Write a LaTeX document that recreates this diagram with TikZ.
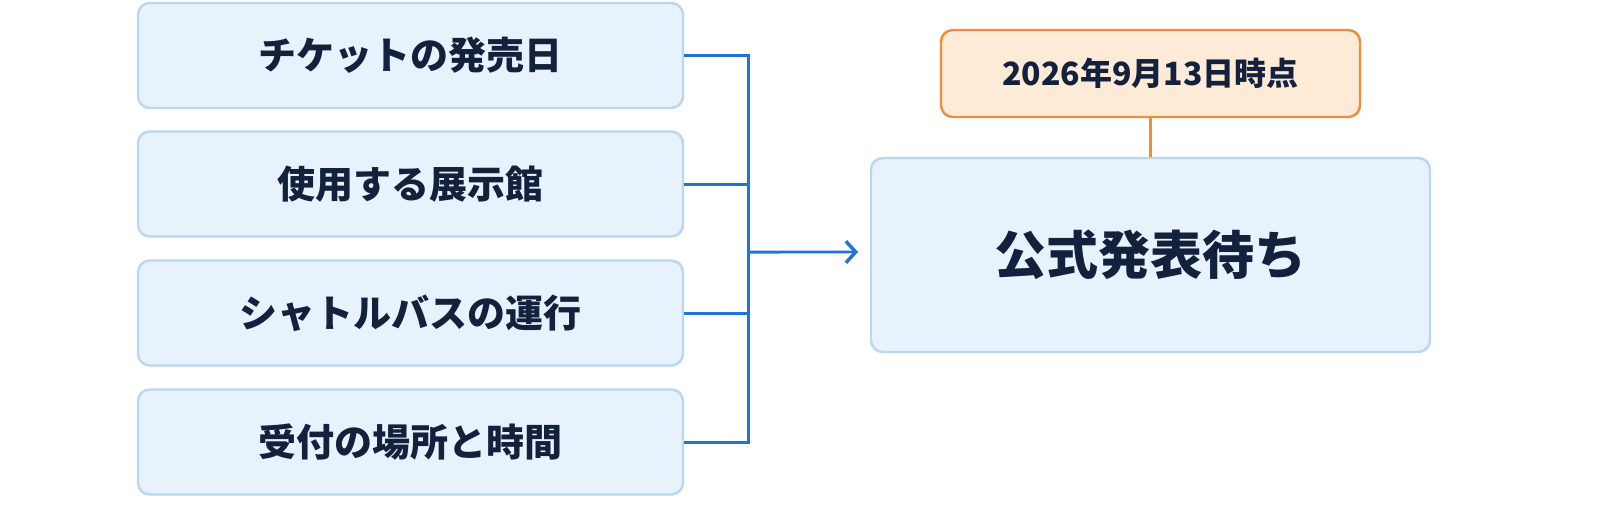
\documentclass[tikz,border=0pt]{standalone}
\usepackage{fontspec}
\newfontfamily\cjk{Noto Sans CJK JP}[BoldFont={* Black}]
\usetikzlibrary{arrows.meta}
\definecolor{boxfill}{HTML}{E8F2FC}
\definecolor{boxline}{HTML}{B9D7F3}
\definecolor{txt}{HTML}{14213D}
\definecolor{link}{HTML}{1F74D4}
\definecolor{ofill}{HTML}{FDEBD8}
\definecolor{oline}{HTML}{F28C38}
\tikzset{
    item/.style={draw=boxline, fill=boxfill, line width=2.5pt, rounded corners=12pt,
    	minimum width=545pt, minimum height=105pt, font=\cjk\bfseries\fontsize{38}{40}\selectfont, text=txt},
    link/.style={draw=link, line width=3pt}
}
\begin{document}
\begin{tikzpicture}[x=1pt, y=-1pt, scale=1.0235, every node/.append style={transform shape}]
	\useasboundingbox (0,0) rectangle (1600,509);
	\node[item] (a) at (410.5, 55.5) {チケットの発売日};
	\node[item] (b) at (410.5, 184) {使用する展示館};
	\node[item] (c) at (410.5, 313) {シャトルバスの運行};
	\node[item] (d) at (410.5, 442) {受付の場所と時間};
	
	\node[item, minimum width=559pt, minimum height=194pt,
		font=\cjk\bfseries\fontsize{52}{56}\selectfont] (res) at (1150.5, 255) {公式発表待ち};
	\node[item, draw=oline, fill=ofill, minimum width=419pt, minimum height=87pt,
		font=\cjk\bfseries\fontsize{32}{36}\selectfont] (date) at (1150.5, 73.5) {2026年9月13日時点};
	
	\coordinate (top) at (748, 55.5);
	\coordinate (bot) at (748, 442);
	\coordinate (mid) at (748, 252);
	\draw[link] (a.east) -- (top) -- (bot) -- (d.east);
	\draw[link] (b.east) -- (b.east -| top);
	\draw[link] (c.east) -- (c.east -| top);
	\draw[link, -{Straight Barb[length=10pt, width=22pt, line width=3.5pt]}] (mid) -- (858, 252);
	\draw[draw=oline, line width=3pt] (date.south) -- (res.north);
\end{tikzpicture}
\end{document}
